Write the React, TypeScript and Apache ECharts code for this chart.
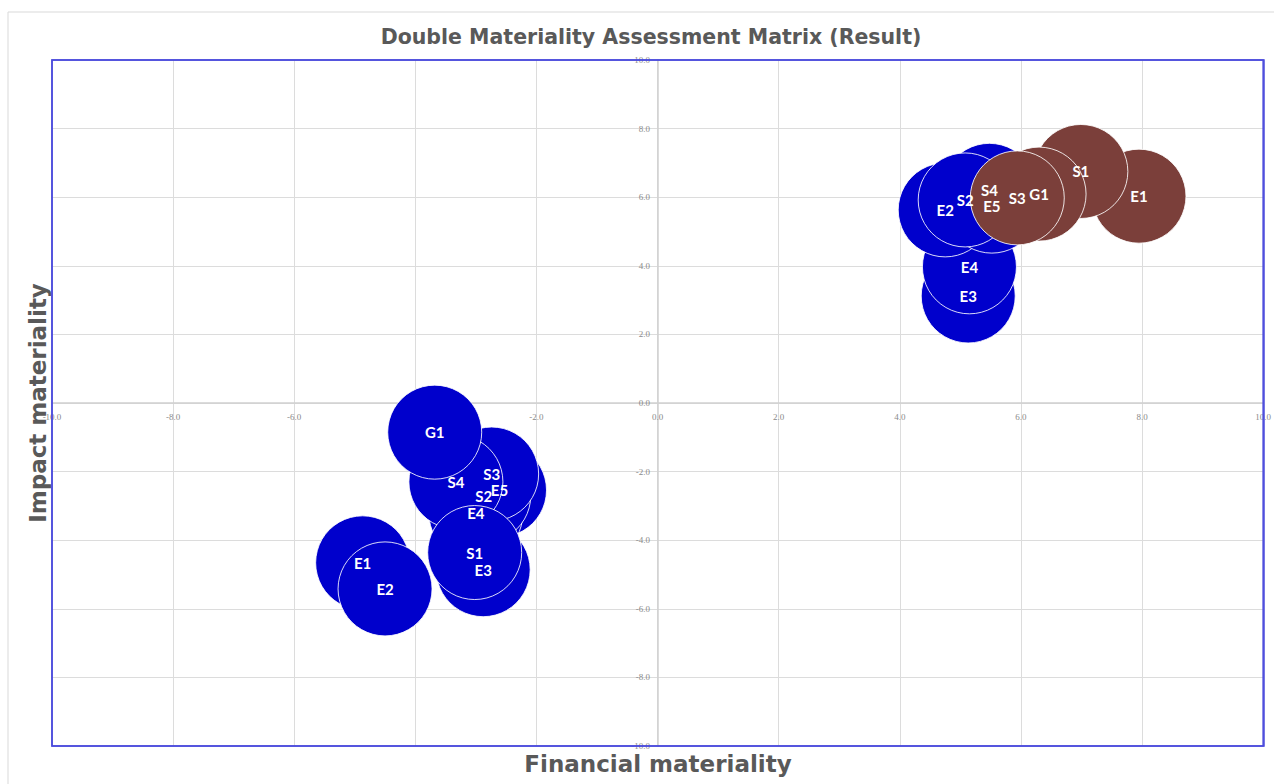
import React, { useEffect, useRef } from "react";
import * as echarts from "echarts";

// Left cluster (all blue)
const leftTopics = ["E5", "E4", "S2", "S3", "S4", "G1", "E3", "S1", "E1", "E2"];
const leftFinancial = [-2.61, -3.0, -2.87, -2.74, -3.33, -3.68, -2.88, -3.02, -4.87, -4.5];
const leftImpact = [-2.54, -3.22, -2.7, -2.07, -2.3, -0.85, -4.86, -4.36, -4.66, -5.42];

// Right cluster, blue points
const rightBlueTopics = ["E3", "E4", "E2", "E5", "S4", "S2"];
const rightBlueFinancial = [5.13, 5.15, 4.75, 5.52, 5.48, 5.08];
const rightBlueImpact = [3.12, 3.97, 5.63, 5.74, 6.2, 5.92];

// Right cluster, brown points
const brownTopics = ["E1", "S1", "G1", "S3"];
const brownFinancial = [7.95, 6.99, 6.3, 5.94];
const brownImpact = [6.03, 6.75, 6.09, 5.98];

const BLUE = "#0000CC";
const BROWN = "#7B3F3A";

const GRID = { left: 52, right: 10, top: 60, bottom: 38 };
const W = 1274;
const H = 784;

function toData(topics: string[], fx: number[], iy: number[]) {
  return topics.map((t, i) => ({ name: t, value: [fx[i], iy[i]] }));
}

export default function App() {
  const ref = useRef<HTMLDivElement>(null);
  useEffect(() => {
    if (!ref.current) return;
    const chart = echarts.init(ref.current, undefined, { renderer: "svg" });
    const gridW = W - GRID.left - GRID.right;
    const gridH = H - GRID.top - GRID.bottom;
    const labelCfg = {
      show: true,
      position: "inside",
      formatter: (p: any) => p.name,
      color: "#ffffff",
      fontFamily: "Lato, 'Open Sans', sans-serif",
      fontWeight: "bold",
      fontSize: 15,
    };
    const itemStyle = (c: string) => ({
      color: c,
      borderColor: "rgba(255,255,255,0.85)",
      borderWidth: 1,
      opacity: 1,
    });
    const axisLabel = {
      formatter: (v: number) => v.toFixed(1),
      color: "#8a8a8a",
      fontSize: 9,
      fontFamily: "'Liberation Serif', 'DejaVu Serif', serif",
    };
    const split = {
      show: true,
      showMinLine: false,
      showMaxLine: false,
      lineStyle: { color: "#dcdcdc", width: 1 },
    };
    const option: any = {
      animation: false,
      title: {
        text: "Double Materiality Assessment Matrix (Result)",
        left: 646,
        top: 21,
        textAlign: "center",
        textStyle: {
          color: "#595959",
          fontSize: 20.5,
          fontWeight: "bold",
          fontFamily: "'DejaVu Sans', Verdana, sans-serif",
        },
      },
      grid: {
        ...GRID,
        show: true,
        borderColor: "#4B4BDC",
        borderWidth: 1.5,
        backgroundColor: "transparent",
        z: 3,
      },
      xAxis: {
        type: "value",
        min: -10,
        max: 10,
        interval: 2,
        position: "bottom",
        offset: -gridH / 2,
        axisLine: { show: true, onZero: false, lineStyle: { color: "#d0d0d0", width: 1.5 } },
        axisTick: { show: false },
        axisLabel: { ...axisLabel, margin: 9 },
        splitLine: split,
      },
      yAxis: {
        type: "value",
        min: -10,
        max: 10,
        interval: 2,
        position: "left",
        offset: -gridW / 2,
        axisLine: { show: true, onZero: false, lineStyle: { color: "#d0d0d0", width: 1.5 } },
        axisTick: { show: false },
        axisLabel: { ...axisLabel, margin: 8 },
        splitLine: split,
      },
      graphic: [
        {
          type: "rect",
          shape: { x: 8, y: 12, width: 1280, height: 790 },
          style: { fill: "none", stroke: "#d9d9d9", lineWidth: 1 },
          silent: true,
          z: -10,
        },
        {
          type: "rect",
          shape: { x: GRID.left, y: GRID.top, width: gridW, height: gridH },
          style: { fill: "none", stroke: "#4B4BDC", lineWidth: 1.5 },
          silent: true,
          z: 1,
        },
        {
          type: "text",
          x: 658,
          y: 764,
          style: {
            text: "Financial materiality",
            fill: "#595959",
            fontSize: 23,
            fontWeight: "bold",
            fontFamily: "'DejaVu Sans', Verdana, sans-serif",
            align: "center",
            verticalAlign: "middle",
          },
        },
        {
          type: "text",
          x: 38,
          y: 403,
          rotation: Math.PI / 2,
          style: {
            text: "Impact materiality",
            fill: "#595959",
            fontSize: 23,
            fontWeight: "bold",
            fontFamily: "'DejaVu Sans', Verdana, sans-serif",
            align: "center",
            verticalAlign: "middle",
          },
        },
      ],
      series: [
        {
          name: "Left",
          type: "scatter",
          symbol: "circle",
          symbolSize: 94,
          data: toData(leftTopics, leftFinancial, leftImpact),
          itemStyle: itemStyle(BLUE),
          label: labelCfg,
        },
        {
          name: "Right blue",
          type: "scatter",
          symbol: "circle",
          symbolSize: 94,
          data: toData(rightBlueTopics, rightBlueFinancial, rightBlueImpact),
          itemStyle: itemStyle(BLUE),
          label: labelCfg,
        },
        {
          name: "Right brown",
          type: "scatter",
          symbol: "circle",
          symbolSize: 94,
          data: toData(brownTopics, brownFinancial, brownImpact),
          itemStyle: itemStyle(BROWN),
          label: labelCfg,
        },
      ],
    };
    chart.setOption(option);
    return () => chart.dispose();
  }, []);
  return (
    <div
      ref={ref}
      style={{ position: "fixed", left: 0, top: 0, width: W, height: H, background: "#fff" }}
    />
  );
}
